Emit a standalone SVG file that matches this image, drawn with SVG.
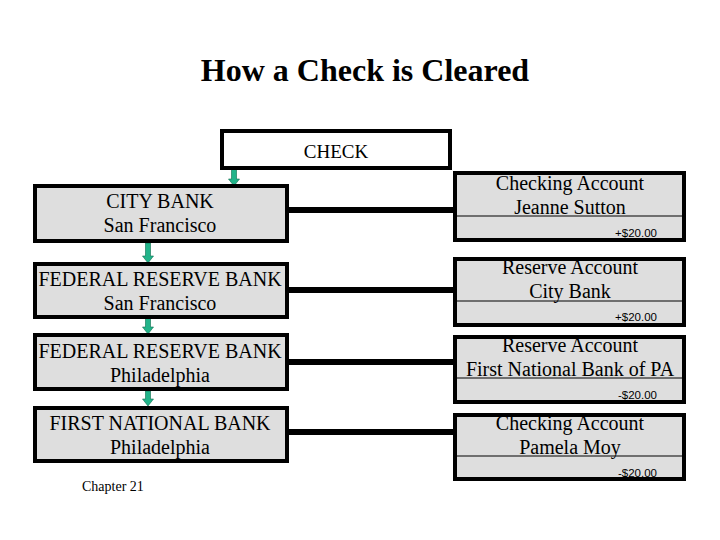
<svg xmlns="http://www.w3.org/2000/svg" width="720" height="540" viewBox="0 0 720 540">
<style>
.title{font-family:"Liberation Serif","Times New Roman",serif;font-weight:bold;font-size:32px;fill:#000}
.t{font-family:"Liberation Serif","Times New Roman",serif;font-size:20px;fill:#000;text-anchor:middle}
.amt{font-family:"Liberation Sans",Arial,sans-serif;font-size:11.5px;fill:#000;text-anchor:end}
.box{fill:#dedede;stroke:#000;stroke-width:4}
.div{stroke:#000;stroke-width:1.2}
.conn{stroke:#000;stroke-width:6;fill:none}
.arr{fill:#22b48a;stroke:#0d6b4e;stroke-width:0.6}
</style>
<rect width="720" height="540" fill="#fff"/>
<text class="title" x="365" y="81" text-anchor="middle">How a Check is Cleared</text>

<g id="connectors">
<line class="conn" x1="288" y1="210" x2="455" y2="210"/>
<line class="conn" x1="288" y1="290" x2="455" y2="290"/>
<line class="conn" x1="288" y1="362" x2="455" y2="362"/>
<line class="conn" x1="288" y1="432" x2="455" y2="432"/>
<polygon class="arr" points="231.5,168 236.5,168 236.5,179 239.5,179 234,186 228.5,179 231.5,179"/>
<polygon class="arr" points="145.5,243 150.5,243 150.5,256 153.5,256 148,263 142.5,256 145.5,256"/>
<polygon class="arr" points="145.5,318 150.5,318 150.5,327 153.5,327 148,334 142.5,327 145.5,327"/>
<polygon class="arr" points="145.5,391 150.5,391 150.5,399 153.5,399 148,406 142.5,399 145.5,399"/>
</g>

<g id="check">
<rect x="222" y="131" width="228" height="37" fill="#fff" stroke="#000" stroke-width="4"/>
<text class="t" x="336" y="158" style="font-size:19px">CHECK</text>
</g>

<g id="city-bank">
<rect class="box" x="35" y="186" width="252" height="55"/>
<text class="t" x="160" y="208">CITY BANK</text>
<text class="t" x="160" y="232">San Francisco</text>
</g>
<g id="fed-sf">
<rect class="box" x="35" y="264" width="252" height="53"/>
<text class="t" x="160" y="286">FEDERAL RESERVE BANK</text>
<text class="t" x="160" y="310">San Francisco</text>
</g>
<g id="fed-phil">
<rect class="box" x="35" y="335" width="252" height="54"/>
<text class="t" x="160" y="358">FEDERAL RESERVE BANK</text>
<text class="t" x="160" y="382">Philadelphia</text>
</g>
<g id="first-national">
<rect class="box" x="35" y="408" width="252" height="53"/>
<text class="t" x="160" y="430">FIRST NATIONAL BANK</text>
<text class="t" x="160" y="454">Philadelphia</text>
</g>

<g id="acct-sutton">
<rect class="box" x="455" y="173" width="229" height="67"/>
<line class="div" x1="457" y1="216" x2="682" y2="216"/>
<text class="t" x="570" y="190">Checking Account</text>
<text class="t" x="570" y="214">Jeanne Sutton</text>
<text class="amt" x="657" y="237">+$20.00</text>
</g>
<g id="reserve-city">
<rect class="box" x="455" y="259" width="229" height="66"/>
<line class="div" x1="457" y1="301" x2="682" y2="301"/>
<text class="t" x="570" y="274">Reserve Account</text>
<text class="t" x="570" y="298">City Bank</text>
<text class="amt" x="657" y="321">+$20.00</text>
</g>
<g id="reserve-fnb">
<rect class="box" x="455" y="337" width="229" height="65"/>
<line class="div" x1="457" y1="378" x2="682" y2="378"/>
<text class="t" x="570" y="352">Reserve Account</text>
<text class="t" x="570" y="376">First National Bank of PA</text>
<text class="amt" x="657" y="399">-$20.00</text>
</g>
<g id="acct-moy">
<rect class="box" x="455" y="415" width="229" height="64"/>
<line class="div" x1="457" y1="456" x2="682" y2="456"/>
<text class="t" x="570" y="430">Checking Account</text>
<text class="t" x="570" y="454">Pamela Moy</text>
<text class="amt" x="657" y="477">-$20.00</text>
</g>

<text x="82" y="491" style="font-family:'Liberation Serif','Times New Roman',serif;font-size:14px;fill:#000">Chapter 21</text>
</svg>
